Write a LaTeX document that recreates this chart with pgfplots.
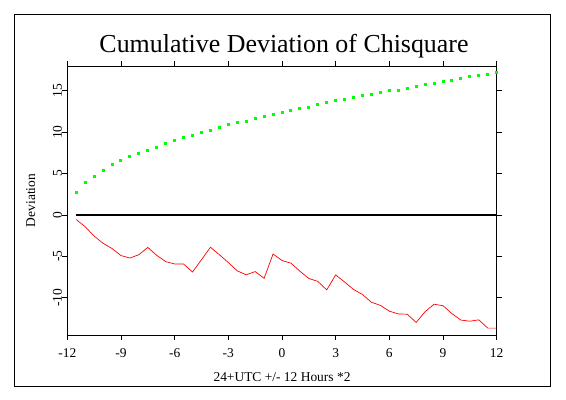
\documentclass[border=0pt]{standalone}
\usepackage{pgfplots}
\pgfplotsset{compat=1.18}
\usepackage{fontspec}
\setmainfont{Liberation Serif}
\definecolor{lgreen}{RGB}{0,255,0}
\definecolor{lred}{RGB}{255,0,0}
\begin{document}
\begin{tikzpicture}[x=1bp,y=1bp]
\useasboundingbox (0,0) rectangle (566,399);
\draw[line width=1bp] (14.3,12.7) rectangle (550,384.7);
\node[font=\fontsize{26}{30}\selectfont, anchor=base, inner sep=0pt] at (284,347) {Cumulative Deviation of Chisquare};
\begin{axis}[
  at={(67.3bp,64bp)}, anchor=south west, scale only axis,
  width=429.4bp, height=269bp,
  xmin=-12, xmax=12, ymin=-14.5, ymax=18,
  xtick={-12,-9,-6,-3,0,3,6,9,12},
  xticklabels={-12,-9,-6,-3,0,3,6,9,12},
  ytick={-10,-5,0,5,10,15},
  yticklabels={-10,-5,0,5,10,15},
  tick align=outside, major tick length=5bp,
  tick style={black, line width=0.8bp},
  axis line style={line width=0.9bp},
  tick label style={font=\fontsize{13.5}{16}\selectfont},
  xticklabel style={yshift=-5bp},
  yticklabel style={rotate=90, anchor=south, inner sep=0pt},
  label style={font=\fontsize{13.5}{16}\selectfont},
  xlabel={24+UTC +/- 12 Hours *2},
  xlabel style={at={(axis description cs:0.5,-0.171)}, anchor=base},
  ylabel={Deviation},
  ylabel style={at={(axis description cs:-0.0752,0.5)}, anchor=base, rotate=0},
]
\addplot[black, line width=2bp] coordinates {(-11.5,0) (12,0)};
\addplot[lgreen, only marks, mark=square*, mark size=1bp, mark options={draw=lgreen, fill=lgreen, line width=0pt}] coordinates {
(-11.5,2.74) (-11,3.90) (-10.5,4.71) (-10,5.43) (-9.5,6.04) (-9,6.59) (-8.5,7.07) (-8,7.47)
(-7.5,7.80) (-7,8.20) (-6.5,8.64) (-6,9.00) (-5.5,9.37) (-5,9.65) (-4.5,9.97) (-4,10.25)
(-3.5,10.53) (-3,10.94) (-2.5,11.14) (-2,11.34) (-1.5,11.62) (-1,11.94) (-0.5,12.18) (0,12.42)
(0.5,12.63) (1,12.86) (1.5,13.03) (2,13.35) (2.5,13.60) (3,13.79) (3.5,13.95) (4,14.20)
(4.5,14.44) (5,14.60) (5.5,14.80) (6,15.00) (6.5,15.08) (7,15.28) (7.5,15.56) (8,15.76)
(8.5,15.93) (9,16.13) (9.5,16.25) (10,16.49) (10.5,16.69) (11,16.85) (11.5,17.01) (12,17.21)
};
\addplot[lred, line width=0.7bp, mark=none] coordinates {
(-11.5,-0.55) (-11,-1.42) (-10.5,-2.55) (-10,-3.42) (-9.5,-4.05) (-9,-4.90) (-8.5,-5.20) (-8,-4.80)
(-7.5,-3.92) (-7,-4.88) (-6.5,-5.63) (-6,-5.92) (-5.5,-5.92) (-5,-6.89) (-4.5,-5.40) (-4,-3.90)
(-3.5,-4.80) (-3,-5.75) (-2.5,-6.75) (-2,-7.23) (-1.5,-6.84) (-1,-7.65) (-0.5,-4.71) (0,-5.50)
(0.5,-5.82) (1,-6.79) (1.5,-7.67) (2,-8.02) (2.5,-9.05) (3,-7.24) (3.5,-8.10) (4,-9.00)
(4.5,-9.61) (5,-10.55) (5.5,-10.92) (6,-11.62) (6.5,-11.95) (7,-11.99) (7.5,-12.98) (8,-11.67)
(8.5,-10.78) (9,-10.96) (9.5,-11.92) (10,-12.70) (10.5,-12.83) (11,-12.67) (11.5,-13.67) (12,-13.67)
};
\end{axis}
\end{tikzpicture}
\end{document}
